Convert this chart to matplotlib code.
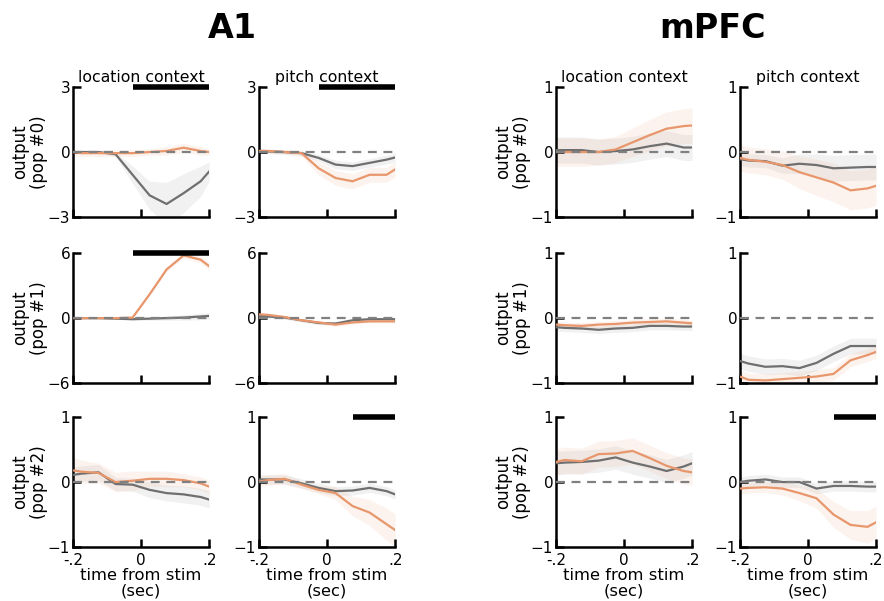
import matplotlib
matplotlib.use("Agg")
import matplotlib.pyplot as plt
import numpy as np

# ---- data ----
times = [-0.2, -0.175, -0.125, -0.075, -0.025, 0.025, 0.075, 0.125, 0.175, 0.2]
regions = ["A1", "mPFC"]
contexts = ["location context", "pitch context"]
pops = ["pop #0", "pop #1", "pop #2"]
x_ticks = [-0.2, 0.0, 0.2]
x_ticklabels = ["-.2", "0", ".2"]
a1_ylims = [3, 6, 1]
mpfc_ylims = [1, 1, 1]

# A1, location context
a1_loc_p0_orange = [0.0, -0.05, -0.05, -0.05, -0.05, 0.0, 0.05, 0.2, 0.05, 0.0]
a1_loc_p0_orange_err = [0.15, 0.15, 0.15, 0.15, 0.15, 0.15, 0.2, 0.2, 0.2, 0.15]
a1_loc_p0_gray = [0.0, 0.0, 0.0, -0.1, -1.05, -2.0, -2.4, -1.9, -1.35, -0.9]
a1_loc_p0_gray_err = [0.05, 0.05, 0.05, 0.1, 0.4, 0.65, 1.0, 0.9, 0.7, 0.45]

a1_loc_p1_orange = [0.0, 0.0, 0.0, 0.0, 0.05, 2.2, 4.5, 5.8, 5.4, 4.8]
a1_loc_p1_orange_err = [0.1, 0.1, 0.1, 0.1, 0.1, 0.15, 0.2, 0.25, 0.3, 0.35]
a1_loc_p1_gray = [0.0, 0.0, 0.0, -0.05, -0.1, -0.05, 0.0, 0.05, 0.15, 0.2]
a1_loc_p1_gray_err = [0.05, 0.05, 0.05, 0.05, 0.1, 0.15, 0.2, 0.25, 0.3, 0.3]

a1_loc_p2_orange = [0.18, 0.16, 0.14, 0.0, 0.02, 0.05, 0.05, 0.03, -0.02, -0.07]
a1_loc_p2_orange_err = [0.2, 0.18, 0.15, 0.15, 0.15, 0.12, 0.12, 0.1, 0.1, 0.1]
a1_loc_p2_gray = [0.11, 0.13, 0.15, -0.03, -0.04, -0.12, -0.17, -0.19, -0.23, -0.27]
a1_loc_p2_gray_err = [0.12, 0.12, 0.12, 0.1, 0.1, 0.12, 0.12, 0.13, 0.13, 0.13]

# A1, pitch context
a1_pit_p0_orange = [0.05, 0.05, 0.0, -0.05, -0.75, -1.2, -1.35, -1.05, -1.05, -0.8]
a1_pit_p0_orange_err = [0.1, 0.1, 0.1, 0.15, 0.3, 0.35, 0.35, 0.35, 0.35, 0.35]
a1_pit_p0_gray = [0.05, 0.03, 0.0, -0.05, -0.27, -0.58, -0.65, -0.5, -0.35, -0.25]
a1_pit_p0_gray_err = [0.1, 0.1, 0.1, 0.1, 0.15, 0.2, 0.2, 0.2, 0.2, 0.2]

a1_pit_p1_orange = [0.35, 0.3, 0.1, -0.2, -0.4, -0.6, -0.4, -0.3, -0.3, -0.3]
a1_pit_p1_orange_err = [0.15] * 10
a1_pit_p1_gray = [0.2, 0.15, 0.05, -0.2, -0.45, -0.5, -0.2, -0.1, -0.1, -0.1]
a1_pit_p1_gray_err = [0.15] * 10

a1_pit_p2_orange = [0.01, 0.03, 0.05, -0.04, -0.12, -0.17, -0.37, -0.47, -0.65, -0.74]
a1_pit_p2_orange_err = [0.08, 0.08, 0.08, 0.06, 0.06, 0.1, 0.15, 0.2, 0.25, 0.25]
a1_pit_p2_gray = [0.04, 0.04, 0.04, -0.02, -0.09, -0.14, -0.13, -0.09, -0.14, -0.19]
a1_pit_p2_gray_err = [0.07] * 10

# mPFC, location context
mpfc_loc_p0_orange = [0.0, 0.0, 0.0, 0.0, 0.04, 0.15, 0.26, 0.36, 0.4, 0.41]
mpfc_loc_p0_orange_err = [0.22, 0.22, 0.22, 0.2, 0.2, 0.22, 0.24, 0.26, 0.27, 0.27]
mpfc_loc_p0_gray = [0.03, 0.03, 0.03, 0.0, 0.015, 0.04, 0.09, 0.13, 0.07, 0.07]
mpfc_loc_p0_gray_err = [0.2] * 10

mpfc_loc_p1_orange = [-0.1, -0.11, -0.12, -0.1, -0.09, -0.07, -0.06, -0.05, -0.07, -0.08]
mpfc_loc_p1_orange_err = [0.05] * 10
mpfc_loc_p1_gray = [-0.14, -0.15, -0.16, -0.18, -0.16, -0.15, -0.12, -0.12, -0.13, -0.13]
mpfc_loc_p1_gray_err = [0.06] * 10

mpfc_loc_p2_orange = [0.31, 0.34, 0.32, 0.43, 0.44, 0.48, 0.37, 0.25, 0.17, 0.15]
mpfc_loc_p2_orange_err = [0.2] * 10
mpfc_loc_p2_gray = [0.29, 0.3, 0.31, 0.33, 0.38, 0.3, 0.24, 0.17, 0.24, 0.29]
mpfc_loc_p2_gray_err = [0.18] * 10

# mPFC, pitch context
mpfc_pit_p0_orange = [-0.09, -0.12, -0.15, -0.2, -0.31, -0.39, -0.47, -0.59, -0.56, -0.52]
mpfc_pit_p0_orange_err = [0.2, 0.2, 0.2, 0.22, 0.25, 0.28, 0.3, 0.3, 0.3, 0.3]
mpfc_pit_p0_gray = [-0.11, -0.13, -0.14, -0.21, -0.18, -0.2, -0.25, -0.24, -0.23, -0.23]
mpfc_pit_p0_gray_err = [0.1, 0.1, 0.1, 0.12, 0.15, 0.17, 0.2, 0.2, 0.2, 0.2]

mpfc_pit_p1_orange = [-0.9, -0.95, -0.96, -0.94, -0.92, -0.9, -0.86, -0.65, -0.57, -0.52]
mpfc_pit_p1_orange_err = [0.1] * 10
mpfc_pit_p1_gray = [-0.66, -0.7, -0.75, -0.74, -0.77, -0.69, -0.55, -0.43, -0.43, -0.43]
mpfc_pit_p1_gray_err = [0.12] * 10

mpfc_pit_p2_orange = [-0.1, -0.09, -0.08, -0.1, -0.17, -0.25, -0.5, -0.66, -0.69, -0.62]
mpfc_pit_p2_orange_err = [0.08, 0.08, 0.08, 0.1, 0.12, 0.15, 0.2, 0.22, 0.25, 0.25]
mpfc_pit_p2_gray = [0.0, 0.02, 0.04, 0.0, 0.0, -0.1, -0.06, -0.06, -0.07, -0.07]
mpfc_pit_p2_gray_err = [0.08] * 10

# significance bars: (region, context, pop) -> (start, end)
sig_bars = {
    ("A1", 0, 0): (-0.025, 0.2),
    ("A1", 1, 0): (-0.025, 0.2),
    ("A1", 0, 1): (-0.025, 0.2),
    ("A1", 1, 2): (0.075, 0.2),
    ("mPFC", 1, 2): (0.075, 0.2),
}

panels = {
    ("A1", 0, 0): (a1_loc_p0_orange, a1_loc_p0_orange_err, a1_loc_p0_gray, a1_loc_p0_gray_err),
    ("A1", 0, 1): (a1_loc_p1_orange, a1_loc_p1_orange_err, a1_loc_p1_gray, a1_loc_p1_gray_err),
    ("A1", 0, 2): (a1_loc_p2_orange, a1_loc_p2_orange_err, a1_loc_p2_gray, a1_loc_p2_gray_err),
    ("A1", 1, 0): (a1_pit_p0_orange, a1_pit_p0_orange_err, a1_pit_p0_gray, a1_pit_p0_gray_err),
    ("A1", 1, 1): (a1_pit_p1_orange, a1_pit_p1_orange_err, a1_pit_p1_gray, a1_pit_p1_gray_err),
    ("A1", 1, 2): (a1_pit_p2_orange, a1_pit_p2_orange_err, a1_pit_p2_gray, a1_pit_p2_gray_err),
    ("mPFC", 0, 0): (mpfc_loc_p0_orange, mpfc_loc_p0_orange_err, mpfc_loc_p0_gray, mpfc_loc_p0_gray_err),
    ("mPFC", 0, 1): (mpfc_loc_p1_orange, mpfc_loc_p1_orange_err, mpfc_loc_p1_gray, mpfc_loc_p1_gray_err),
    ("mPFC", 0, 2): (mpfc_loc_p2_orange, mpfc_loc_p2_orange_err, mpfc_loc_p2_gray, mpfc_loc_p2_gray_err),
    ("mPFC", 1, 0): (mpfc_pit_p0_orange, mpfc_pit_p0_orange_err, mpfc_pit_p0_gray, mpfc_pit_p0_gray_err),
    ("mPFC", 1, 1): (mpfc_pit_p1_orange, mpfc_pit_p1_orange_err, mpfc_pit_p1_gray, mpfc_pit_p1_gray_err),
    ("mPFC", 1, 2): (mpfc_pit_p2_orange, mpfc_pit_p2_orange_err, mpfc_pit_p2_gray, mpfc_pit_p2_gray_err),
}

# ---- styling / layout ----
ORANGE = "#e8966b"
GRAY = "#6f6f6f"
plt.rcParams["font.family"] = ["DejaVu Sans"]

fig = plt.figure(figsize=(8.84, 6.01), dpi=100)

col_x = {("A1", 0): 0.0826, ("A1", 1): 0.293, ("mPFC", 0): 0.629, ("mPFC", 1): 0.837}
ax_w = 0.154
row_bottoms = [0.639, 0.3627, 0.0899]
ax_h = 0.216

t = np.array(times)

for region in regions:
    ylims = a1_ylims if region == "A1" else mpfc_ylims
    for ci in range(2):
        for pi in range(3):
            ax = fig.add_axes([col_x[(region, ci)], row_bottoms[pi], ax_w, ax_h])
            o, oe, g, ge = [np.array(v) for v in panels[(region, ci, pi)]]
            ax.fill_between(t, g - ge, g + ge, color="#a0a0a0", alpha=0.14, lw=0)
            ax.fill_between(t, o - oe, o + oe, color=ORANGE, alpha=0.11, lw=0)
            ax.plot(t, g, color=GRAY, lw=1.6, zorder=3)
            ax.plot(t, o, color=ORANGE, lw=1.6, zorder=3)
            ax.axhline(0, color="#808080", lw=1.6, ls=(0, (4, 3)), zorder=4)
            yl = ylims[pi]
            ax.set_xlim(-0.2, 0.2)
            ax.set_ylim(-yl, yl)
            if (region, ci, pi) in sig_bars:
                s, e = sig_bars[(region, ci, pi)]
                ax.plot([s, e], [yl, yl], color="black", lw=4, solid_capstyle="butt",
                        clip_on=False, zorder=5)
            ax.set_yticks([-yl, 0, yl])
            ax.set_xticks(x_ticks)
            for sp in ["top", "right"]:
                ax.spines[sp].set_visible(False)
            for sp in ["left", "bottom"]:
                ax.spines[sp].set_linewidth(1.8)
            ax.tick_params(direction="in", length=6, width=1.8, labelsize=11)
            ax.tick_params(axis="y", pad=2)
            ax.tick_params(axis="x", pad=4.5)
            if pi == 2:
                ax.set_xticklabels(x_ticklabels)
                ax.set_xlabel("time from stim\n(sec)", fontsize=11.8, labelpad=0,
                              linespacing=1.0)
            else:
                ax.set_xticklabels([])
            if ci == 0:
                ax.set_ylabel("output\n(" + pops[pi] + ")", fontsize=12, linespacing=1.05,
                              labelpad=0)
            if pi == 0:
                ax.set_title(contexts[ci], fontsize=11.3, pad=4)

fig.text(0.263, 0.953, "A1", fontsize=24, fontweight="bold", ha="center", va="center")
fig.text(0.806, 0.953, "mPFC", fontsize=24, fontweight="bold", ha="center", va="center")

fig.savefig("out.png", dpi=100)
